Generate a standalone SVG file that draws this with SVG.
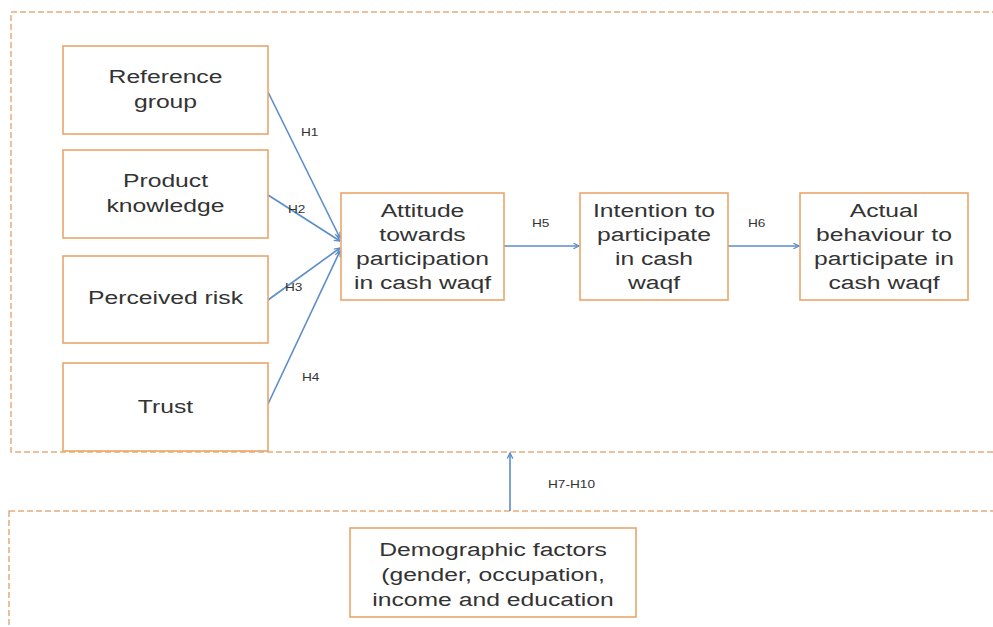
<svg xmlns="http://www.w3.org/2000/svg" width="993" height="627" viewBox="0 0 993 627">
  <defs>
    <style>
      .frame { fill: none; stroke: #e3ad7c; stroke-width: 1.5; stroke-dasharray: 6 3; }
      .box { fill: #ffffff; stroke: #eca66a; stroke-width: 1.6; }
      .lbl { font-family: "Liberation Sans", Arial, sans-serif; font-size: 19px; fill: #333333; text-anchor: middle; }
      .hyp { font-family: "Liberation Sans", Arial, sans-serif; font-size: 10.5px; fill: #333333; }
      .link { fill: none; stroke: #5b8dc8; stroke-width: 1.6; marker-end: url(#arrow); }
    </style>
    <marker id="arrow" viewBox="0 0 10 10" refX="9" refY="5" markerWidth="7" markerHeight="7" markerUnits="userSpaceOnUse" orient="auto">
      <path d="M1,1 L9,5 L1,9" fill="none" stroke="#5b8dc8" stroke-width="1.8"/>
    </marker>
  </defs>
  <rect width="993" height="627" fill="#ffffff"/>

  <!-- dashed grouping frames -->
  <rect class="frame" x="11" y="12" width="1000" height="440"/>
  <rect class="frame" x="9" y="511" width="1000" height="200"/>

  <!-- connectors -->
  <g id="connectors">
    <line class="link" x1="268" y1="92" x2="340" y2="238"/>
    <line class="link" x1="268" y1="195" x2="340" y2="241"/>
    <line class="link" x1="268" y1="300" x2="340" y2="248"/>
    <line class="link" x1="268" y1="404" x2="340" y2="251"/>
    <line class="link" x1="504" y1="246" x2="579" y2="246"/>
    <line class="link" x1="728" y1="246" x2="799" y2="246"/>
    <line class="link" x1="510" y1="511" x2="510" y2="453"/>
    <text class="hyp" transform="translate(301,136) scale(1.3,1)">H1</text>
    <text class="hyp" transform="translate(288,213) scale(1.3,1)">H2</text>
    <text class="hyp" transform="translate(285,291) scale(1.3,1)">H3</text>
    <text class="hyp" transform="translate(302,381) scale(1.3,1)">H4</text>
    <text class="hyp" transform="translate(532,227) scale(1.3,1)">H5</text>
    <text class="hyp" transform="translate(748,227) scale(1.3,1)">H6</text>
    <text class="hyp" transform="translate(548,488) scale(1.3,1)">H7-H10</text>
  </g>

  <g id="reference-group">
    <rect class="box" x="63" y="46" width="205" height="88"/>
    <text class="lbl" transform="translate(165.5,83) scale(1.3,1)"><tspan x="0" y="0">Reference</tspan><tspan x="0" y="25">group</tspan></text>
  </g>
  <g id="product-knowledge">
    <rect class="box" x="63" y="150" width="205" height="88"/>
    <text class="lbl" transform="translate(165.5,187) scale(1.3,1)"><tspan x="0" y="0">Product</tspan><tspan x="0" y="25">knowledge</tspan></text>
  </g>
  <g id="perceived-risk">
    <rect class="box" x="63" y="256" width="205" height="87"/>
    <text class="lbl" transform="translate(165.5,304) scale(1.3,1)">Perceived risk</text>
  </g>
  <g id="trust">
    <rect class="box" x="63" y="363" width="205" height="88"/>
    <text class="lbl" transform="translate(165.5,413) scale(1.3,1)">Trust</text>
  </g>
  <g id="attitude">
    <rect class="box" x="341" y="193" width="163" height="107"/>
    <text class="lbl" transform="translate(422.5,217) scale(1.3,1)"><tspan x="0" y="0">Attitude</tspan><tspan x="0" y="24">towards</tspan><tspan x="0" y="48">participation</tspan><tspan x="0" y="72">in cash waqf</tspan></text>
  </g>
  <g id="intention">
    <rect class="box" x="580" y="193" width="148" height="107"/>
    <text class="lbl" transform="translate(654,217) scale(1.3,1)"><tspan x="0" y="0">Intention to</tspan><tspan x="0" y="24">participate</tspan><tspan x="0" y="48">in cash</tspan><tspan x="0" y="72">waqf</tspan></text>
  </g>
  <g id="actual-behaviour">
    <rect class="box" x="800" y="193" width="168" height="107"/>
    <text class="lbl" transform="translate(884,217) scale(1.3,1)"><tspan x="0" y="0">Actual</tspan><tspan x="0" y="24">behaviour to</tspan><tspan x="0" y="48">participate in</tspan><tspan x="0" y="72">cash waqf</tspan></text>
  </g>
  <g id="demographic-factors">
    <rect class="box" x="350" y="528" width="286" height="89"/>
    <text class="lbl" transform="translate(493,556) scale(1.3,1)"><tspan x="0" y="0">Demographic factors</tspan><tspan x="0" y="25">(gender, occupation,</tspan><tspan x="0" y="50">income and education</tspan></text>
  </g>
</svg>
